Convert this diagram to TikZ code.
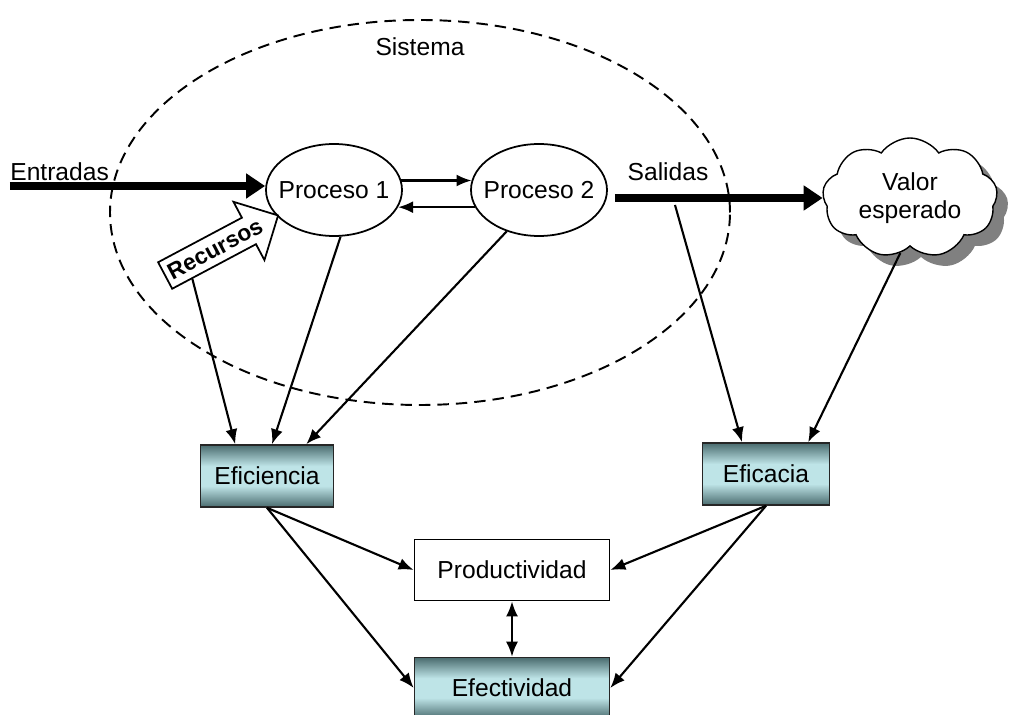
\documentclass[tikz,border=0pt]{standalone}
\usepackage{fontspec}
\setmainfont{Liberation Sans}
\usetikzlibrary{arrows.meta, positioning, calc, shapes.geometric, shapes.symbols, shapes.arrows, shadows}
\definecolor{boxdark}{RGB}{74,108,111}
\definecolor{boxlight}{RGB}{190,228,231}
\definecolor{shadowcol}{RGB}{128,128,128}
\pgfdeclareverticalshading{boxshade}{100bp}{color(0bp)=(boxdark); color(25bp)=(boxdark);
  color(42bp)=(boxlight); color(58bp)=(boxlight); color(75bp)=(boxdark); color(100bp)=(boxdark)}

\begin{document}
\begin{tikzpicture}[
  font=\fontsize{14}{16}\selectfont,
  proc/.style={draw, ellipse, line width=1pt, minimum width=2.72cm,
               minimum height=1.84cm, inner xsep=-0.2cm, inner ysep=0pt},
  measure/.style={draw=black!85, line width=0.9pt, shading=boxshade,
                  minimum height=1.24cm},
  plain/.style={draw, line width=1pt, fill=white, minimum width=3.9cm,
                minimum height=1.22cm},
  flow/.style={-{Latex[length=3mm, width=2.4mm]}, line width=1.2pt},
  twoway/.style={{Latex[length=3mm, width=2.4mm]}-{Latex[length=3mm, width=2.4mm]},
                 line width=1.2pt},
  bigflow/.style={-{Triangle[length=3.8mm, width=4.8mm]}, line width=5pt},
  txt/.style={inner sep=0pt}
]
  \useasboundingbox (0,0) rectangle (20.44,-14.3);

  % system boundary
  \node[draw, dashed, dash pattern=on 6.5pt off 4pt, line width=1.1pt,
        ellipse, minimum width=12.4cm, minimum height=7.7cm] (sys) at (8.4,-4.25) {};
  \node[txt] (systag) at (8.4,-0.94) {Sistema};

  \node[proc] (p1) at (6.68,-3.8) {Proceso 1};
  \node[proc] (p2) at (10.78,-3.8) {Proceso 2};

  \node[cloud, draw, fill=white, line width=0.8pt, cloud puffs=9,
        cloud puff arc=110, aspect=1.4, inner sep=-0.1cm,
        minimum width=3.5cm, minimum height=2.4cm, align=center,
        drop shadow={shadow xshift=0.22cm, shadow yshift=-0.22cm,
                     fill=shadowcol, opacity=1}]
    (goal) at (18.2,-3.96) {Valor\\esperado};

  \node[single arrow, draw, fill=white, line width=1pt, rotate=28,
        font=\fontsize{13}{15}\selectfont\bfseries, minimum height=2.5cm,
        inner ysep=3.5pt, inner xsep=2pt, single arrow head extend=0.36cm]
    (res) at (4.3,-4.98) {Recursos};

  \node[measure, minimum width=2.66cm] (eff) at (5.34,-9.52) {Eficiencia};
  \node[measure, minimum width=2.54cm] (efc) at (15.32,-9.48) {Eficacia};
  \node[plain] (prod) at (10.24,-11.4) {Productividad};
  \node[measure, minimum width=3.9cm, minimum height=1.22cm] (efe) at (10.24,-13.76) {Efectividad};

  % inputs and outputs
  \coordinate (instart) at (0.2,-3.72);
  \node[txt, anchor=west] (intag) at (0.2,-3.44) {Entradas};
  \draw[bigflow] (instart) -- (instart -| p1.west);
  \node[txt] (outtag) at (13.36,-3.44) {Salidas};
  \draw[bigflow, shorten <=0.14cm] (p2.east |- goal.west) -- (goal.west);

  \draw[flow] (p1.8) -- (p2.172);
  \draw[flow] (p2.195) -- (p1.-15);

  % measures
  \coordinate (outfoot) at (13.5,-4.1);
  \draw[flow] (res.205) -- (eff.135);
  \draw[flow] (p1.-82) -- (eff.81);
  \draw[flow] (p2.-128) -- (eff.39);
  \draw[flow] (outfoot) -- (efc.127);
  \draw[flow] (goal.-100) -- (efc.37);

  \draw[flow] (eff.south) -- (prod.west);
  \draw[flow] (eff.south) -- (efe.west);
  \draw[flow] (efc.south) -- (prod.east);
  \draw[flow] (efc.south) -- (efe.east);
  \draw[twoway] (prod.south) -- (efe.north);
\end{tikzpicture}
\end{document}
